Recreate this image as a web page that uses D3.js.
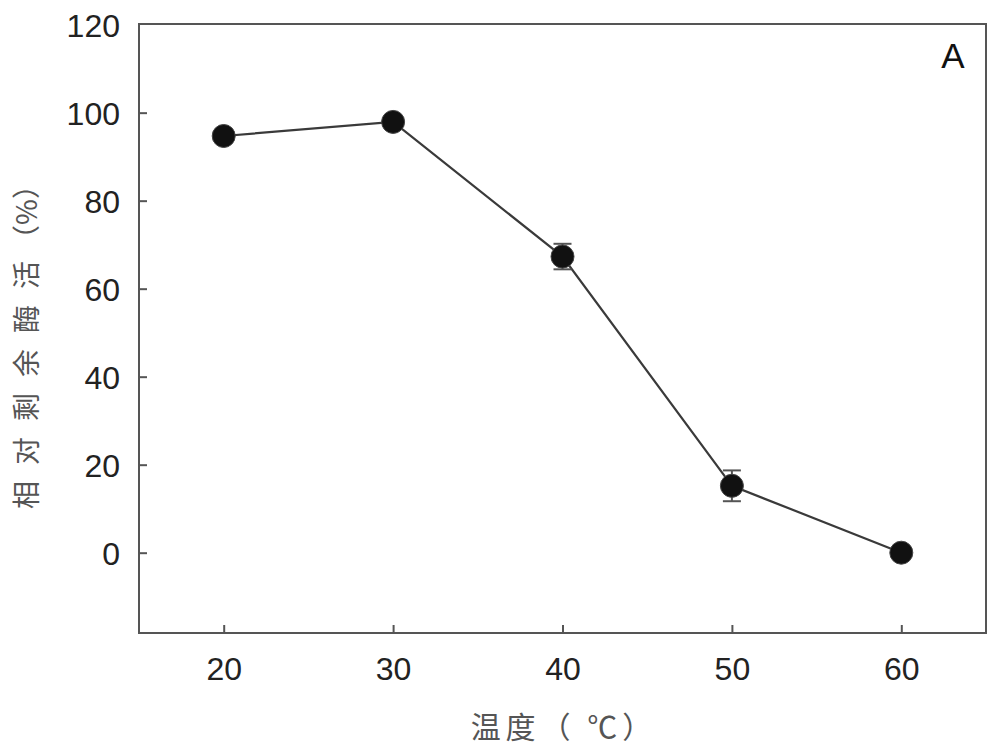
<!DOCTYPE html>
<html><head><meta charset="utf-8">
<script src="https://cdn.jsdelivr.net/npm/d3@7"></script>
<style>body{margin:0;background:#fff}svg{display:block}</style>
</head><body>
<svg id="c" width="1000" height="752"></svg>
<script>
const temps = [20, 30, 40, 50, 60];
const activity = [94.7, 97.9, 67.3, 15.2, 0];
const errors = [0, 0, 2.9, 3.5, 0];
const xTicks = [20, 30, 40, 50, 60];
const yTicks = [0, 20, 40, 60, 80, 100, 120];
const xLabel = "温度（ ℃）";
const yLabelMain = "相对剩余酶活";
const yLabelUnit = "（%）";
const panelLabel = "A";

const svg = d3.select("#c");
const L = 139, R = 986, T = 24, B = 633;
const x = d3.scaleLinear().domain([15, 65]).range([L, R]);
const y = d3.scaleLinear().domain([-18.25, 120.15]).range([B, T]);
const fontNum = "'Liberation Sans', Arial, sans-serif";
const fontCJK = "'Noto Sans CJK SC', sans-serif";

// frame
svg.append("rect").attr("x", L).attr("y", T).attr("width", R - L).attr("height", B - T)
  .attr("fill", "none").attr("stroke", "#555").attr("stroke-width", 2);

// y axis (inward ticks)
const yAxis = d3.axisLeft(y).tickValues(yTicks).tickSize(-8).tickPadding(19).tickFormat(d3.format("d"));
const gy = svg.append("g").attr("transform", `translate(${L},0)`).call(yAxis);
gy.select(".domain").remove();
gy.selectAll(".tick line").attr("stroke", "#555").attr("stroke-width", 2);
gy.selectAll(".tick text").attr("font-family", fontNum).attr("font-size", 32).attr("fill", "#222").attr("dy", "0.36em");
gy.selectAll(".tick").filter(d => d === 120).select("line").remove();

// x axis (inward ticks)
const xAxis = d3.axisBottom(x).tickValues(xTicks).tickSize(-8).tickPadding(24).tickFormat(d3.format("d"));
const gx = svg.append("g").attr("transform", `translate(0,${B})`).call(xAxis);
gx.select(".domain").remove();
gx.selectAll(".tick line").attr("stroke", "#555").attr("stroke-width", 2);
gx.selectAll(".tick text").attr("font-family", fontNum).attr("font-size", 32).attr("fill", "#222");

const data = temps.map((t, i) => ({t, v: activity[i], e: errors[i]}));

// line
svg.append("path").datum(data)
  .attr("d", d3.line().x(d => x(d.t)).y(d => y(d.v)))
  .attr("fill", "none").attr("stroke", "#3a3a3a").attr("stroke-width", 2.2);

// error bars
const eb = svg.append("g").attr("stroke", "#555").attr("stroke-width", 2);
data.filter(d => d.e > 0).forEach(d => {
  const cx = x(d.t);
  eb.append("line").attr("x1", cx).attr("x2", cx).attr("y1", y(d.v + d.e)).attr("y2", y(d.v - d.e));
  [d.v + d.e, d.v - d.e].forEach(v => {
    eb.append("line").attr("x1", cx - 9).attr("x2", cx + 9).attr("y1", y(v)).attr("y2", y(v));
  });
});

// markers
svg.append("g").selectAll("circle").data(data).join("circle")
  .attr("cx", d => x(d.t)).attr("cy", d => y(d.v)).attr("r", 11.5)
  .attr("fill", "#111").attr("stroke", "#444").attr("stroke-width", 1);

// panel label
svg.append("text").attr("x", 953).attr("y", 68).attr("text-anchor", "middle")
  .attr("font-family", fontNum).attr("font-size", 35).attr("fill", "#111").text(panelLabel);

// x label
svg.append("text").attr("x", 564).attr("y", 738).attr("text-anchor", "middle")
  .attr("font-family", fontCJK).attr("font-size", 30).attr("fill", "#555")
  .attr("letter-spacing", "5px").style("white-space", "pre").text(xLabel);

// y label
const yl = svg.append("text").attr("transform", "translate(37,340) rotate(-90)")
  .attr("text-anchor", "middle").attr("font-family", fontCJK).attr("font-size", 28).attr("fill", "#555");
yl.append("tspan").attr("letter-spacing", "16px").text(yLabelMain);
yl.append("tspan").attr("dx", -8).text(yLabelUnit);
</script>
</body></html>
